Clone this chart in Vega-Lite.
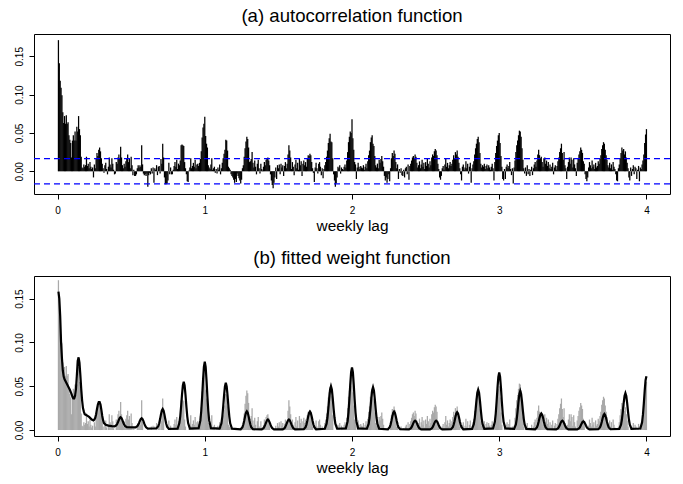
{
"$schema": "https://vega.github.io/schema/vega-lite/v6.json",
"padding": {"left": 13, "top": 6, "right": 14, "bottom": 5},
"spacing": 14,
"config": {
  "font": "Liberation Sans",
  "view": {"stroke": "black", "strokeWidth": 1},
  "axis": {"domain": false, "grid": false, "tickColor": "black", "tickSize": 5, "labelFont": "Liberation Sans", "titleFont": "Liberation Sans", "labelColor": "black", "titleColor": "black", "labelFontSize": 10, "titleFontSize": 15.4, "titleFontWeight": "normal"},
  "title": {"font": "Liberation Sans", "fontSize": 18.6, "fontWeight": "normal", "color": "black", "offset": 8, "anchor": "middle"}
},
"datasets": {
  "bounds": [{"bound": 0.0165}, {"bound": -0.0165}],
  "acf": [
{"hour":1,"acf":0.171},{"hour":2,"acf":0.141},{"hour":3,"acf":0.118},{"hour":4,"acf":0.109},{"hour":5,"acf":0.099},{"hour":6,"acf":0.077},{"hour":7,"acf":0.063},{"hour":8,"acf":0.072},{"hour":9,"acf":0.062},{"hour":10,"acf":0.073},{"hour":11,"acf":0.062},{"hour":12,"acf":0.064},{"hour":13,"acf":0.047},{"hour":14,"acf":0.041},{"hour":15,"acf":0.037},{"hour":16,"acf":0.018},{"hour":17,"acf":0.040},{"hour":18,"acf":0.047},{"hour":19,"acf":0.040},{"hour":20,"acf":0.052},{"hour":21,"acf":0.040},{"hour":22,"acf":0.058},{"hour":23,"acf":0.052},{"hour":24,"acf":0.072},
{"hour":25,"acf":0.055},{"hour":26,"acf":0.047},{"hour":27,"acf":0.019},{"hour":28,"acf":0.005},{"hour":29,"acf":0.004},{"hour":30,"acf":0.009},{"hour":31,"acf":0.006},{"hour":32,"acf":0.008},{"hour":33,"acf":0.019},{"hour":34,"acf":0.007},{"hour":35,"acf":0.010},{"hour":36,"acf":0.004},{"hour":37,"acf":0.012},{"hour":38,"acf":0.006},{"hour":39,"acf":0.003},{"hour":40,"acf":0.005},{"hour":41,"acf":-0.008},{"hour":42,"acf":0.009},{"hour":43,"acf":0.004},{"hour":44,"acf":0.016},{"hour":45,"acf":0.024},{"hour":46,"acf":0.020},{"hour":47,"acf":0.028},{"hour":48,"acf":0.031},
{"hour":49,"acf":0.026},{"hour":50,"acf":0.017},{"hour":51,"acf":0.010},{"hour":52,"acf":0.004},{"hour":53,"acf":-0.002},{"hour":54,"acf":0.008},{"hour":55,"acf":0.011},{"hour":56,"acf":0.003},{"hour":57,"acf":-0.004},{"hour":58,"acf":0.006},{"hour":59,"acf":0.018},{"hour":60,"acf":0.009},{"hour":61,"acf":0.005},{"hour":62,"acf":0.017},{"hour":63,"acf":0.010},{"hour":64,"acf":0.002},{"hour":65,"acf":-0.004},{"hour":66,"acf":-0.003},{"hour":67,"acf":0.012},{"hour":68,"acf":0.010},{"hour":69,"acf":0.018},{"hour":70,"acf":0.022},{"hour":71,"acf":0.016},{"hour":72,"acf":0.032},
{"hour":73,"acf":0.018},{"hour":74,"acf":0.008},{"hour":75,"acf":0.004},{"hour":76,"acf":0.010},{"hour":77,"acf":0.006},{"hour":78,"acf":0.013},{"hour":79,"acf":0.017},{"hour":80,"acf":0.022},{"hour":81,"acf":0.012},{"hour":82,"acf":0.016},{"hour":83,"acf":0.004},{"hour":84,"acf":0.019},{"hour":85,"acf":0.008},{"hour":86,"acf":-0.005},{"hour":87,"acf":0.002},{"hour":88,"acf":-0.006},{"hour":89,"acf":-0.006},{"hour":90,"acf":-0.004},{"hour":91,"acf":0.004},{"hour":92,"acf":0.008},{"hour":93,"acf":0.005},{"hour":94,"acf":0.008},{"hour":95,"acf":0.006},{"hour":96,"acf":0.034},
{"hour":97,"acf":0.009},{"hour":98,"acf":-0.003},{"hour":99,"acf":-0.005},{"hour":100,"acf":-0.004},{"hour":101,"acf":-0.006},{"hour":102,"acf":-0.003},{"hour":103,"acf":-0.020},{"hour":104,"acf":-0.005},{"hour":105,"acf":-0.002},{"hour":106,"acf":-0.004},{"hour":107,"acf":0.004},{"hour":108,"acf":-0.003},{"hour":109,"acf":0.005},{"hour":110,"acf":-0.015},{"hour":111,"acf":0.004},{"hour":112,"acf":0.002},{"hour":113,"acf":0.008},{"hour":114,"acf":-0.005},{"hour":115,"acf":0.006},{"hour":116,"acf":0.007},{"hour":117,"acf":-0.003},{"hour":118,"acf":0.016},{"hour":119,"acf":0.010},{"hour":120,"acf":0.036},
{"hour":121,"acf":0.018},{"hour":122,"acf":-0.008},{"hour":123,"acf":-0.017},{"hour":124,"acf":-0.017},{"hour":125,"acf":-0.016},{"hour":126,"acf":-0.012},{"hour":127,"acf":0.011},{"hour":128,"acf":-0.004},{"hour":129,"acf":0.005},{"hour":130,"acf":-0.004},{"hour":131,"acf":-0.004},{"hour":132,"acf":0.002},{"hour":133,"acf":0.007},{"hour":134,"acf":0.012},{"hour":135,"acf":0.006},{"hour":136,"acf":0.015},{"hour":137,"acf":0.003},{"hour":138,"acf":0.010},{"hour":139,"acf":0.008},{"hour":140,"acf":0.014},{"hour":141,"acf":0.034},{"hour":142,"acf":0.035},{"hour":143,"acf":0.034},{"hour":144,"acf":0.033},
{"hour":145,"acf":0.012},{"hour":146,"acf":0.004},{"hour":147,"acf":-0.004},{"hour":148,"acf":-0.013},{"hour":149,"acf":-0.014},{"hour":150,"acf":0.001},{"hour":151,"acf":0.005},{"hour":152,"acf":0.017},{"hour":153,"acf":0.004},{"hour":154,"acf":0.007},{"hour":155,"acf":0.011},{"hour":156,"acf":0.006},{"hour":157,"acf":0.015},{"hour":158,"acf":0.004},{"hour":159,"acf":0.009},{"hour":160,"acf":0.010},{"hour":161,"acf":0.007},{"hour":162,"acf":0.011},{"hour":163,"acf":0.016},{"hour":164,"acf":0.026},{"hour":165,"acf":0.044},{"hour":166,"acf":0.057},{"hour":167,"acf":0.062},{"hour":168,"acf":0.071},
{"hour":169,"acf":0.046},{"hour":170,"acf":0.036},{"hour":171,"acf":0.031},{"hour":172,"acf":0.008},{"hour":173,"acf":0.005},{"hour":174,"acf":0.003},{"hour":175,"acf":0.009},{"hour":176,"acf":0.017},{"hour":177,"acf":0.002},{"hour":178,"acf":0.004},{"hour":179,"acf":0.006},{"hour":180,"acf":-0.002},{"hour":181,"acf":0.003},{"hour":182,"acf":-0.003},{"hour":183,"acf":0.005},{"hour":184,"acf":0.002},{"hour":185,"acf":0.009},{"hour":186,"acf":-0.004},{"hour":187,"acf":0.004},{"hour":188,"acf":0.011},{"hour":189,"acf":0.017},{"hour":190,"acf":0.023},{"hour":191,"acf":0.028},{"hour":192,"acf":0.041},
{"hour":193,"acf":0.040},{"hour":194,"acf":0.027},{"hour":195,"acf":0.006},{"hour":196,"acf":0.004},{"hour":197,"acf":0.002},{"hour":198,"acf":-0.004},{"hour":199,"acf":-0.006},{"hour":200,"acf":-0.008},{"hour":201,"acf":-0.011},{"hour":202,"acf":-0.015},{"hour":203,"acf":-0.010},{"hour":204,"acf":-0.014},{"hour":205,"acf":-0.003},{"hour":206,"acf":-0.006},{"hour":207,"acf":-0.009},{"hour":208,"acf":-0.012},{"hour":209,"acf":-0.016},{"hour":210,"acf":-0.011},{"hour":211,"acf":0.004},{"hour":212,"acf":0.008},{"hour":213,"acf":0.019},{"hour":214,"acf":0.030},{"hour":215,"acf":0.039},{"hour":216,"acf":0.045},
{"hour":217,"acf":0.042},{"hour":218,"acf":0.031},{"hour":219,"acf":0.012},{"hour":220,"acf":0.013},{"hour":221,"acf":0.016},{"hour":222,"acf":0.025},{"hour":223,"acf":0.011},{"hour":224,"acf":0.005},{"hour":225,"acf":0.014},{"hour":226,"acf":0.006},{"hour":227,"acf":-0.004},{"hour":228,"acf":0.010},{"hour":229,"acf":0.015},{"hour":230,"acf":0.004},{"hour":231,"acf":-0.003},{"hour":232,"acf":0.010},{"hour":233,"acf":0.003},{"hour":234,"acf":0.001},{"hour":235,"acf":0.006},{"hour":236,"acf":0.012},{"hour":237,"acf":0.008},{"hour":238,"acf":0.015},{"hour":239,"acf":0.017},{"hour":240,"acf":0.018},
{"hour":241,"acf":0.014},{"hour":242,"acf":0.008},{"hour":243,"acf":-0.004},{"hour":244,"acf":-0.012},{"hour":245,"acf":-0.018},{"hour":246,"acf":-0.022},{"hour":247,"acf":-0.015},{"hour":248,"acf":-0.008},{"hour":249,"acf":0.005},{"hour":250,"acf":-0.010},{"hour":251,"acf":0.008},{"hour":252,"acf":0.004},{"hour":253,"acf":0.009},{"hour":254,"acf":-0.004},{"hour":255,"acf":0.010},{"hour":256,"acf":0.005},{"hour":257,"acf":0.008},{"hour":258,"acf":-0.006},{"hour":259,"acf":0.007},{"hour":260,"acf":0.012},{"hour":261,"acf":0.004},{"hour":262,"acf":0.010},{"hour":263,"acf":0.022},{"hour":264,"acf":0.034},
{"hour":265,"acf":0.027},{"hour":266,"acf":0.018},{"hour":267,"acf":0.003},{"hour":268,"acf":0.012},{"hour":269,"acf":0.006},{"hour":270,"acf":-0.005},{"hour":271,"acf":0.009},{"hour":272,"acf":0.015},{"hour":273,"acf":0.004},{"hour":274,"acf":0.011},{"hour":275,"acf":0.002},{"hour":276,"acf":0.016},{"hour":277,"acf":0.008},{"hour":278,"acf":0.013},{"hour":279,"acf":-0.006},{"hour":280,"acf":0.010},{"hour":281,"acf":0.014},{"hour":282,"acf":0.008},{"hour":283,"acf":0.012},{"hour":284,"acf":0.006},{"hour":285,"acf":0.017},{"hour":286,"acf":0.021},{"hour":287,"acf":0.020},{"hour":288,"acf":0.023},
{"hour":289,"acf":0.021},{"hour":290,"acf":0.012},{"hour":291,"acf":0.004},{"hour":292,"acf":-0.002},{"hour":293,"acf":-0.014},{"hour":294,"acf":0.005},{"hour":295,"acf":0.011},{"hour":296,"acf":0.004},{"hour":297,"acf":-0.003},{"hour":298,"acf":0.010},{"hour":299,"acf":0.012},{"hour":300,"acf":0.006},{"hour":301,"acf":-0.005},{"hour":302,"acf":0.004},{"hour":303,"acf":-0.009},{"hour":304,"acf":0.003},{"hour":305,"acf":0.008},{"hour":306,"acf":0.012},{"hour":307,"acf":0.019},{"hour":308,"acf":0.027},{"hour":309,"acf":0.037},{"hour":310,"acf":0.043},{"hour":311,"acf":0.049},{"hour":312,"acf":0.039},
{"hour":313,"acf":0.038},{"hour":314,"acf":0.017},{"hour":315,"acf":-0.004},{"hour":316,"acf":-0.012},{"hour":317,"acf":-0.020},{"hour":318,"acf":-0.016},{"hour":319,"acf":-0.008},{"hour":320,"acf":0.006},{"hour":321,"acf":0.004},{"hour":322,"acf":0.008},{"hour":323,"acf":-0.003},{"hour":324,"acf":0.005},{"hour":325,"acf":0.003},{"hour":326,"acf":0.002},{"hour":327,"acf":0.006},{"hour":328,"acf":0.009},{"hour":329,"acf":0.005},{"hour":330,"acf":0.014},{"hour":331,"acf":0.025},{"hour":332,"acf":0.038},{"hour":333,"acf":0.045},{"hour":334,"acf":0.052},{"hour":335,"acf":0.050},{"hour":336,"acf":0.068},
{"hour":337,"acf":0.043},{"hour":338,"acf":0.028},{"hour":339,"acf":0.012},{"hour":340,"acf":0.009},{"hour":341,"acf":-0.010},{"hour":342,"acf":0.005},{"hour":343,"acf":0.011},{"hour":344,"acf":0.006},{"hour":345,"acf":0.003},{"hour":346,"acf":0.007},{"hour":347,"acf":0.005},{"hour":348,"acf":0.004},{"hour":349,"acf":0.008},{"hour":350,"acf":0.002},{"hour":351,"acf":0.006},{"hour":352,"acf":0.010},{"hour":353,"acf":0.004},{"hour":354,"acf":0.013},{"hour":355,"acf":0.021},{"hour":356,"acf":0.027},{"hour":357,"acf":0.038},{"hour":358,"acf":0.044},{"hour":359,"acf":0.047},{"hour":360,"acf":0.036},
{"hour":361,"acf":0.033},{"hour":362,"acf":0.020},{"hour":363,"acf":0.008},{"hour":364,"acf":0.005},{"hour":365,"acf":0.010},{"hour":366,"acf":0.004},{"hour":367,"acf":0.015},{"hour":368,"acf":0.011},{"hour":369,"acf":0.016},{"hour":370,"acf":0.020},{"hour":371,"acf":0.013},{"hour":372,"acf":0.006},{"hour":373,"acf":-0.006},{"hour":374,"acf":-0.012},{"hour":375,"acf":-0.008},{"hour":376,"acf":-0.015},{"hour":377,"acf":-0.010},{"hour":378,"acf":-0.004},{"hour":379,"acf":-0.013},{"hour":380,"acf":0.004},{"hour":381,"acf":0.017},{"hour":382,"acf":0.024},{"hour":383,"acf":0.020},{"hour":384,"acf":0.027},
{"hour":385,"acf":0.023},{"hour":386,"acf":0.012},{"hour":387,"acf":0.004},{"hour":388,"acf":0.009},{"hour":389,"acf":-0.010},{"hour":390,"acf":0.003},{"hour":391,"acf":-0.002},{"hour":392,"acf":0.004},{"hour":393,"acf":-0.005},{"hour":394,"acf":-0.006},{"hour":395,"acf":0.002},{"hour":396,"acf":-0.008},{"hour":397,"acf":0.004},{"hour":398,"acf":0.006},{"hour":399,"acf":-0.004},{"hour":400,"acf":0.009},{"hour":401,"acf":-0.011},{"hour":402,"acf":0.007},{"hour":403,"acf":0.010},{"hour":404,"acf":0.014},{"hour":405,"acf":0.018},{"hour":406,"acf":0.020},{"hour":407,"acf":0.016},{"hour":408,"acf":0.022},
{"hour":409,"acf":0.019},{"hour":410,"acf":0.011},{"hour":411,"acf":0.005},{"hour":412,"acf":0.008},{"hour":413,"acf":0.013},{"hour":414,"acf":0.004},{"hour":415,"acf":0.009},{"hour":416,"acf":0.015},{"hour":417,"acf":0.006},{"hour":418,"acf":0.011},{"hour":419,"acf":0.003},{"hour":420,"acf":0.012},{"hour":421,"acf":0.007},{"hour":422,"acf":0.016},{"hour":423,"acf":0.010},{"hour":424,"acf":0.005},{"hour":425,"acf":0.013},{"hour":426,"acf":0.008},{"hour":427,"acf":0.018},{"hour":428,"acf":0.022},{"hour":429,"acf":0.020},{"hour":430,"acf":0.026},{"hour":431,"acf":0.029},{"hour":432,"acf":0.027},
{"hour":433,"acf":0.021},{"hour":434,"acf":0.010},{"hour":435,"acf":0.003},{"hour":436,"acf":-0.008},{"hour":437,"acf":-0.011},{"hour":438,"acf":-0.006},{"hour":439,"acf":0.004},{"hour":440,"acf":0.007},{"hour":441,"acf":0.002},{"hour":442,"acf":0.009},{"hour":443,"acf":0.016},{"hour":444,"acf":0.006},{"hour":445,"acf":0.011},{"hour":446,"acf":0.004},{"hour":447,"acf":0.008},{"hour":448,"acf":0.012},{"hour":449,"acf":0.007},{"hour":450,"acf":0.010},{"hour":451,"acf":0.015},{"hour":452,"acf":0.021},{"hour":453,"acf":0.017},{"hour":454,"acf":0.025},{"hour":455,"acf":0.022},{"hour":456,"acf":0.027},
{"hour":457,"acf":0.019},{"hour":458,"acf":0.011},{"hour":459,"acf":0.004},{"hour":460,"acf":-0.004},{"hour":461,"acf":-0.012},{"hour":462,"acf":0.006},{"hour":463,"acf":0.009},{"hour":464,"acf":0.002},{"hour":465,"acf":0.005},{"hour":466,"acf":0.013},{"hour":467,"acf":0.004},{"hour":468,"acf":0.010},{"hour":469,"acf":-0.003},{"hour":470,"acf":0.006},{"hour":471,"acf":0.011},{"hour":472,"acf":-0.015},{"hour":473,"acf":0.004},{"hour":474,"acf":0.009},{"hour":475,"acf":0.013},{"hour":476,"acf":0.022},{"hour":477,"acf":0.030},{"hour":478,"acf":0.036},{"hour":479,"acf":0.042},{"hour":480,"acf":0.045},
{"hour":481,"acf":0.038},{"hour":482,"acf":0.024},{"hour":483,"acf":0.010},{"hour":484,"acf":0.005},{"hour":485,"acf":0.008},{"hour":486,"acf":0.006},{"hour":487,"acf":0.010},{"hour":488,"acf":0.003},{"hour":489,"acf":0.007},{"hour":490,"acf":0.009},{"hour":491,"acf":0.004},{"hour":492,"acf":0.008},{"hour":493,"acf":0.005},{"hour":494,"acf":0.002},{"hour":495,"acf":0.006},{"hour":496,"acf":0.010},{"hour":497,"acf":0.004},{"hour":498,"acf":-0.012},{"hour":499,"acf":0.012},{"hour":500,"acf":0.024},{"hour":501,"acf":0.033},{"hour":502,"acf":0.040},{"hour":503,"acf":0.047},{"hour":504,"acf":0.050},
{"hour":505,"acf":0.037},{"hour":506,"acf":0.020},{"hour":507,"acf":0.006},{"hour":508,"acf":-0.010},{"hour":509,"acf":-0.012},{"hour":510,"acf":0.003},{"hour":511,"acf":-0.010},{"hour":512,"acf":0.006},{"hour":513,"acf":0.009},{"hour":514,"acf":0.004},{"hour":515,"acf":0.007},{"hour":516,"acf":0.012},{"hour":517,"acf":0.003},{"hour":518,"acf":-0.005},{"hour":519,"acf":0.004},{"hour":520,"acf":-0.016},{"hour":521,"acf":0.005},{"hour":522,"acf":0.014},{"hour":523,"acf":0.025},{"hour":524,"acf":0.034},{"hour":525,"acf":0.040},{"hour":526,"acf":0.047},{"hour":527,"acf":0.053},{"hour":528,"acf":0.052},
{"hour":529,"acf":0.045},{"hour":530,"acf":0.030},{"hour":531,"acf":0.015},{"hour":532,"acf":0.004},{"hour":533,"acf":-0.003},{"hour":534,"acf":0.005},{"hour":535,"acf":-0.006},{"hour":536,"acf":0.008},{"hour":537,"acf":-0.004},{"hour":538,"acf":0.003},{"hour":539,"acf":-0.006},{"hour":540,"acf":0.002},{"hour":541,"acf":0.006},{"hour":542,"acf":-0.005},{"hour":543,"acf":0.004},{"hour":544,"acf":0.009},{"hour":545,"acf":0.012},{"hour":546,"acf":0.006},{"hour":547,"acf":0.014},{"hour":548,"acf":0.022},{"hour":549,"acf":0.028},{"hour":550,"acf":0.021},{"hour":551,"acf":0.017},{"hour":552,"acf":0.019},
{"hour":553,"acf":0.012},{"hour":554,"acf":0.006},{"hour":555,"acf":0.017},{"hour":556,"acf":0.018},{"hour":557,"acf":0.010},{"hour":558,"acf":0.014},{"hour":559,"acf":0.007},{"hour":560,"acf":0.012},{"hour":561,"acf":0.004},{"hour":562,"acf":0.009},{"hour":563,"acf":0.003},{"hour":564,"acf":0.006},{"hour":565,"acf":0.011},{"hour":566,"acf":-0.004},{"hour":567,"acf":0.005},{"hour":568,"acf":0.008},{"hour":569,"acf":0.002},{"hour":570,"acf":0.007},{"hour":571,"acf":0.013},{"hour":572,"acf":0.018},{"hour":573,"acf":0.025},{"hour":574,"acf":0.030},{"hour":575,"acf":0.036},{"hour":576,"acf":0.024},
{"hour":577,"acf":0.015},{"hour":578,"acf":0.025},{"hour":579,"acf":0.008},{"hour":580,"acf":0.004},{"hour":581,"acf":-0.010},{"hour":582,"acf":0.006},{"hour":583,"acf":0.012},{"hour":584,"acf":0.018},{"hour":585,"acf":0.010},{"hour":586,"acf":0.018},{"hour":587,"acf":0.015},{"hour":588,"acf":0.005},{"hour":589,"acf":0.017},{"hour":590,"acf":0.009},{"hour":591,"acf":0.004},{"hour":592,"acf":-0.006},{"hour":593,"acf":0.011},{"hour":594,"acf":0.016},{"hour":595,"acf":0.022},{"hour":596,"acf":0.026},{"hour":597,"acf":0.031},{"hour":598,"acf":0.028},{"hour":599,"acf":0.024},{"hour":600,"acf":0.013},
{"hour":601,"acf":0.010},{"hour":602,"acf":-0.004},{"hour":603,"acf":-0.010},{"hour":604,"acf":-0.013},{"hour":605,"acf":-0.008},{"hour":606,"acf":0.005},{"hour":607,"acf":0.012},{"hour":608,"acf":0.008},{"hour":609,"acf":0.004},{"hour":610,"acf":0.014},{"hour":611,"acf":0.006},{"hour":612,"acf":0.009},{"hour":613,"acf":0.003},{"hour":614,"acf":0.011},{"hour":615,"acf":0.005},{"hour":616,"acf":0.007},{"hour":617,"acf":0.013},{"hour":618,"acf":0.010},{"hour":619,"acf":0.016},{"hour":620,"acf":0.021},{"hour":621,"acf":0.029},{"hour":622,"acf":0.034},{"hour":623,"acf":0.038},{"hour":624,"acf":0.036},
{"hour":625,"acf":0.028},{"hour":626,"acf":0.021},{"hour":627,"acf":0.015},{"hour":628,"acf":0.008},{"hour":629,"acf":0.005},{"hour":630,"acf":0.011},{"hour":631,"acf":0.004},{"hour":632,"acf":0.009},{"hour":633,"acf":0.002},{"hour":634,"acf":0.012},{"hour":635,"acf":0.006},{"hour":636,"acf":0.003},{"hour":637,"acf":-0.004},{"hour":638,"acf":-0.012},{"hour":639,"acf":-0.013},{"hour":640,"acf":0.004},{"hour":641,"acf":0.009},{"hour":642,"acf":0.017},{"hour":643,"acf":0.024},{"hour":644,"acf":0.031},{"hour":645,"acf":0.027},{"hour":646,"acf":0.029},{"hour":647,"acf":0.022},{"hour":648,"acf":0.026},
{"hour":649,"acf":0.018},{"hour":650,"acf":0.011},{"hour":651,"acf":0.004},{"hour":652,"acf":-0.008},{"hour":653,"acf":-0.012},{"hour":654,"acf":0.005},{"hour":655,"acf":-0.006},{"hour":656,"acf":0.003},{"hour":657,"acf":0.008},{"hour":658,"acf":-0.004},{"hour":659,"acf":0.006},{"hour":660,"acf":0.004},{"hour":661,"acf":-0.010},{"hour":662,"acf":0.002},{"hour":663,"acf":0.007},{"hour":664,"acf":-0.013},{"hour":665,"acf":0.005},{"hour":666,"acf":0.003},{"hour":667,"acf":0.009},{"hour":668,"acf":0.014},{"hour":669,"acf":0.022},{"hour":670,"acf":0.037},{"hour":671,"acf":0.048},{"hour":672,"acf":0.055}
  ],
  "weight": [
{"hour":1,"w":0.158},{"hour":2,"w":0.150},{"hour":3,"w":0.130},{"hour":4,"w":0.100},{"hour":5,"w":0.082},{"hour":6,"w":0.068},{"hour":7,"w":0.061},{"hour":8,"w":0.058},{"hour":10,"w":0.054},{"hour":12,"w":0.050},{"hour":14,"w":0.046},{"hour":16,"w":0.041},{"hour":17,"w":0.038},{"hour":18,"w":0.036},{"hour":19,"w":0.036},{"hour":20,"w":0.039},{"hour":21,"w":0.047},{"hour":22,"w":0.062},{"hour":23,"w":0.079},{"hour":24,"w":0.083},{"hour":25,"w":0.077},{"hour":26,"w":0.063},{"hour":27,"w":0.047},{"hour":28,"w":0.034},{"hour":29,"w":0.025},{"hour":30,"w":0.021},{"hour":31,"w":0.018},{"hour":33,"w":0.017},{"hour":36,"w":0.015},{"hour":39,"w":0.012},{"hour":41,"w":0.011},{"hour":42,"w":0.012},{"hour":43,"w":0.014},{"hour":44,"w":0.018},{"hour":45,"w":0.024},{"hour":46,"w":0.029},{"hour":47,"w":0.032},{"hour":48,"w":0.032},{"hour":49,"w":0.029},{"hour":50,"w":0.023},{"hour":51,"w":0.016},{"hour":52,"w":0.011},{"hour":53,"w":0.008},{"hour":55,"w":0.006},{"hour":58,"w":0.005},{"hour":62,"w":0.0045},
{"hour":65,"w":0.0042},{"hour":67,"w":0.0054},{"hour":68,"w":0.0069},{"hour":69,"w":0.0092},{"hour":70,"w":0.0117},{"hour":71,"w":0.0138},{"hour":72,"w":0.0146},{"hour":73,"w":0.0137},{"hour":74,"w":0.0114},{"hour":75,"w":0.0086},{"hour":76,"w":0.0062},{"hour":77,"w":0.0046},{"hour":79,"w":0.0032},
{"hour":89,"w":0.0031},{"hour":91,"w":0.0044},{"hour":92,"w":0.0059},{"hour":93,"w":0.0081},{"hour":94,"w":0.0106},{"hour":95,"w":0.0126},{"hour":96,"w":0.0134},{"hour":97,"w":0.0125},{"hour":98,"w":0.0101},{"hour":99,"w":0.0073},{"hour":100,"w":0.0048},{"hour":101,"w":0.0031},{"hour":103,"w":0.0017},
{"hour":113,"w":0.0020},{"hour":115,"w":0.0045},{"hour":116,"w":0.0078},{"hour":117,"w":0.0125},{"hour":118,"w":0.0178},{"hour":119,"w":0.0223},{"hour":120,"w":0.024},{"hour":121,"w":0.0222},{"hour":122,"w":0.0176},{"hour":123,"w":0.0121},{"hour":124,"w":0.0072},{"hour":125,"w":0.0039},{"hour":127,"w":0.0013},
{"hour":137,"w":0.0016},{"hour":139,"w":0.0079},{"hour":140,"w":0.0157},{"hour":141,"w":0.0270},{"hour":142,"w":0.0401},{"hour":143,"w":0.0508},{"hour":144,"w":0.055},{"hour":145,"w":0.0508},{"hour":146,"w":0.0401},{"hour":147,"w":0.0270},{"hour":148,"w":0.0157},{"hour":149,"w":0.0079},{"hour":151,"w":0.0016},
{"hour":161,"w":0.0021},{"hour":163,"w":0.0110},{"hour":164,"w":0.0220},{"hour":165,"w":0.0382},{"hour":166,"w":0.0568},{"hour":167,"w":0.0720},{"hour":168,"w":0.078},{"hour":169,"w":0.0720},{"hour":170,"w":0.0568},{"hour":171,"w":0.0382},{"hour":172,"w":0.0220},{"hour":173,"w":0.0110},{"hour":175,"w":0.0021},
{"hour":185,"w":0.0016},{"hour":187,"w":0.0077},{"hour":188,"w":0.0154},{"hour":189,"w":0.0266},{"hour":190,"w":0.0393},{"hour":191,"w":0.0499},{"hour":192,"w":0.054},{"hour":193,"w":0.0499},{"hour":194,"w":0.0393},{"hour":195,"w":0.0266},{"hour":196,"w":0.0154},{"hour":197,"w":0.0077},{"hour":199,"w":0.0016},
{"hour":209,"w":0.0009},{"hour":211,"w":0.0033},{"hour":212,"w":0.0063},{"hour":213,"w":0.0107},{"hour":214,"w":0.0157},{"hour":215,"w":0.0199},{"hour":216,"w":0.0215},{"hour":217,"w":0.0199},{"hour":218,"w":0.0157},{"hour":219,"w":0.0107},{"hour":220,"w":0.0063},{"hour":221,"w":0.0033},{"hour":223,"w":0.0009},
{"hour":233,"w":0.0007},{"hour":235,"w":0.0021},{"hour":236,"w":0.0037},{"hour":237,"w":0.0061},{"hour":238,"w":0.0088},{"hour":239,"w":0.0111},{"hour":240,"w":0.012},{"hour":241,"w":0.0111},{"hour":242,"w":0.0088},{"hour":243,"w":0.0061},{"hour":244,"w":0.0037},{"hour":245,"w":0.0021},{"hour":247,"w":0.0007},
{"hour":257,"w":0.0007},{"hour":259,"w":0.0021},{"hour":260,"w":0.0037},{"hour":261,"w":0.0061},{"hour":262,"w":0.0088},{"hour":263,"w":0.0111},{"hour":264,"w":0.012},{"hour":265,"w":0.0111},{"hour":266,"w":0.0088},{"hour":267,"w":0.0061},{"hour":268,"w":0.0037},{"hour":269,"w":0.0021},{"hour":271,"w":0.0007},
{"hour":281,"w":0.0009},{"hour":283,"w":0.0033},{"hour":284,"w":0.0062},{"hour":285,"w":0.0105},{"hour":286,"w":0.0154},{"hour":287,"w":0.0194},{"hour":288,"w":0.021},{"hour":289,"w":0.0194},{"hour":290,"w":0.0154},{"hour":291,"w":0.0105},{"hour":292,"w":0.0062},{"hour":293,"w":0.0033},{"hour":295,"w":0.0009},
{"hour":305,"w":0.0015},{"hour":307,"w":0.0072},{"hour":308,"w":0.0143},{"hour":309,"w":0.0246},{"hour":310,"w":0.0364},{"hour":311,"w":0.0462},{"hour":312,"w":0.050},{"hour":313,"w":0.0462},{"hour":314,"w":0.0364},{"hour":315,"w":0.0246},{"hour":316,"w":0.0143},{"hour":317,"w":0.0072},{"hour":319,"w":0.0015},
{"hour":329,"w":0.0019},{"hour":331,"w":0.0101},{"hour":332,"w":0.0202},{"hour":333,"w":0.0351},{"hour":334,"w":0.0520},{"hour":335,"w":0.0660},{"hour":336,"w":0.0715},{"hour":337,"w":0.0660},{"hour":338,"w":0.0520},{"hour":339,"w":0.0351},{"hour":340,"w":0.0202},{"hour":341,"w":0.0101},{"hour":343,"w":0.0019},
{"hour":353,"w":0.0015},{"hour":355,"w":0.0070},{"hour":356,"w":0.0140},{"hour":357,"w":0.0241},{"hour":358,"w":0.0357},{"hour":359,"w":0.0453},{"hour":360,"w":0.049},{"hour":361,"w":0.0453},{"hour":362,"w":0.0357},{"hour":363,"w":0.0241},{"hour":364,"w":0.0140},{"hour":365,"w":0.0070},{"hour":367,"w":0.0015},
{"hour":377,"w":0.0009},{"hour":379,"w":0.0033},{"hour":380,"w":0.0062},{"hour":381,"w":0.0105},{"hour":382,"w":0.0154},{"hour":383,"w":0.0194},{"hour":384,"w":0.021},{"hour":385,"w":0.0194},{"hour":386,"w":0.0154},{"hour":387,"w":0.0105},{"hour":388,"w":0.0062},{"hour":389,"w":0.0033},{"hour":391,"w":0.0009},
{"hour":401,"w":0.0007},{"hour":403,"w":0.0019},{"hour":404,"w":0.0033},{"hour":405,"w":0.0055},{"hour":406,"w":0.0079},{"hour":407,"w":0.0099},{"hour":408,"w":0.0107},{"hour":409,"w":0.0099},{"hour":410,"w":0.0079},{"hour":411,"w":0.0055},{"hour":412,"w":0.0033},{"hour":413,"w":0.0019},{"hour":415,"w":0.0007},
{"hour":425,"w":0.0007},{"hour":427,"w":0.0019},{"hour":428,"w":0.0033},{"hour":429,"w":0.0055},{"hour":430,"w":0.0079},{"hour":431,"w":0.0099},{"hour":432,"w":0.0107},{"hour":433,"w":0.0099},{"hour":434,"w":0.0079},{"hour":435,"w":0.0055},{"hour":436,"w":0.0033},{"hour":437,"w":0.0019},{"hour":439,"w":0.0007},
{"hour":449,"w":0.0009},{"hour":451,"w":0.0032},{"hour":452,"w":0.0060},{"hour":453,"w":0.0101},{"hour":454,"w":0.0149},{"hour":455,"w":0.0188},{"hour":456,"w":0.0203},{"hour":457,"w":0.0188},{"hour":458,"w":0.0149},{"hour":459,"w":0.0101},{"hour":460,"w":0.0060},{"hour":461,"w":0.0032},{"hour":463,"w":0.0009},
{"hour":473,"w":0.0014},{"hour":475,"w":0.0066},{"hour":476,"w":0.0131},{"hour":477,"w":0.0227},{"hour":478,"w":0.0335},{"hour":479,"w":0.0425},{"hour":480,"w":0.046},{"hour":481,"w":0.0425},{"hour":482,"w":0.0335},{"hour":483,"w":0.0227},{"hour":484,"w":0.0131},{"hour":485,"w":0.0066},{"hour":487,"w":0.0014},
{"hour":497,"w":0.0018},{"hour":499,"w":0.0093},{"hour":500,"w":0.0186},{"hour":501,"w":0.0323},{"hour":502,"w":0.0478},{"hour":503,"w":0.0607},{"hour":504,"w":0.0657},{"hour":505,"w":0.0607},{"hour":506,"w":0.0478},{"hour":507,"w":0.0323},{"hour":508,"w":0.0186},{"hour":509,"w":0.0093},{"hour":511,"w":0.0018},
{"hour":521,"w":0.0014},{"hour":523,"w":0.0065},{"hour":524,"w":0.0128},{"hour":525,"w":0.0220},{"hour":526,"w":0.0325},{"hour":527,"w":0.0412},{"hour":528,"w":0.0446},{"hour":529,"w":0.0412},{"hour":530,"w":0.0325},{"hour":531,"w":0.0220},{"hour":532,"w":0.0128},{"hour":533,"w":0.0065},{"hour":535,"w":0.0014},
{"hour":545,"w":0.0009},{"hour":547,"w":0.0030},{"hour":548,"w":0.0056},{"hour":549,"w":0.0095},{"hour":550,"w":0.0139},{"hour":551,"w":0.0176},{"hour":552,"w":0.019},{"hour":553,"w":0.0176},{"hour":554,"w":0.0139},{"hour":555,"w":0.0095},{"hour":556,"w":0.0056},{"hour":557,"w":0.0030},{"hour":559,"w":0.0009},
{"hour":569,"w":0.0007},{"hour":571,"w":0.0019},{"hour":572,"w":0.0033},{"hour":573,"w":0.0055},{"hour":574,"w":0.0079},{"hour":575,"w":0.0099},{"hour":576,"w":0.0107},{"hour":577,"w":0.0099},{"hour":578,"w":0.0079},{"hour":579,"w":0.0055},{"hour":580,"w":0.0033},{"hour":581,"w":0.0019},{"hour":583,"w":0.0007},
{"hour":593,"w":0.0007},{"hour":595,"w":0.0018},{"hour":596,"w":0.0031},{"hour":597,"w":0.0051},{"hour":598,"w":0.0073},{"hour":599,"w":0.0092},{"hour":600,"w":0.0099},{"hour":601,"w":0.0092},{"hour":602,"w":0.0073},{"hour":603,"w":0.0051},{"hour":604,"w":0.0031},{"hour":605,"w":0.0018},{"hour":607,"w":0.0007},
{"hour":617,"w":0.0009},{"hour":619,"w":0.0029},{"hour":620,"w":0.0055},{"hour":621,"w":0.0092},{"hour":622,"w":0.0135},{"hour":623,"w":0.0170},{"hour":624,"w":0.0184},{"hour":625,"w":0.0170},{"hour":626,"w":0.0135},{"hour":627,"w":0.0092},{"hour":628,"w":0.0055},{"hour":629,"w":0.0029},{"hour":631,"w":0.0009},
{"hour":641,"w":0.0013},{"hour":643,"w":0.0061},{"hour":644,"w":0.0120},{"hour":645,"w":0.0207},{"hour":646,"w":0.0306},{"hour":647,"w":0.0388},{"hour":648,"w":0.042},{"hour":649,"w":0.0388},{"hour":650,"w":0.0306},{"hour":651,"w":0.0207},{"hour":652,"w":0.0120},{"hour":653,"w":0.0061},{"hour":655,"w":0.0013},
{"hour":665,"w":0.0017},{"hour":667,"w":0.0087},{"hour":668,"w":0.0175},{"hour":669,"w":0.0302},{"hour":670,"w":0.0448},{"hour":671,"w":0.0568},{"hour":672,"w":0.0615}
  ]
},
"vconcat": [
  {
    "title": "(a) autocorrelation function",
    "width": 636,
    "height": 160,
    "layer": [
      {
        "data": {"name": "acf"},
        "mark": {"type": "rule", "color": "black", "strokeWidth": 1.25},
        "encoding": {
          "x": {"field": "hour", "type": "quantitative", "scale": {"domain": [-26.88, 698.88], "nice": false, "zero": false},
                "axis": {"values": [0, 168, 336, 504, 672], "labelExpr": "datum.value / 168", "title": "weekly lag", "labelPadding": 6, "titlePadding": 3}},
          "y": {"field": "acf", "type": "quantitative", "scale": {"domain": [-0.0296, 0.179], "nice": false, "zero": false},
                "axis": {"values": [0, 0.05, 0.1, 0.15], "format": ".2f", "labelAngle": 270, "labelAlign": "center", "labelBaseline": "bottom", "labelPadding": 5, "title": null}},
          "y2": {"datum": 0}
        }
      },
      {
        "mark": {"type": "rule", "color": "black", "strokeWidth": 1},
        "encoding": {"y": {"datum": 0}}
      },
      {
        "data": {"name": "bounds"},
        "mark": {"type": "rule", "color": "#0000FF", "strokeWidth": 1.2, "strokeDash": [6, 4]},
        "encoding": {"y": {"field": "bound", "type": "quantitative"}}
      }
    ]
  },
  {
    "title": "(b) fitted weight function",
    "width": 636,
    "height": 160,
    "layer": [
      {
        "data": {"name": "acf"},
        "transform": [{"filter": "datum.acf > 0"}],
        "mark": {"type": "rule", "color": "#A9A9A9", "strokeWidth": 1.25},
        "encoding": {
          "x": {"field": "hour", "type": "quantitative", "scale": {"domain": [-26.88, 698.88], "nice": false, "zero": false},
                "axis": {"values": [0, 168, 336, 504, 672], "labelExpr": "datum.value / 168", "title": "weekly lag", "labelPadding": 6, "titlePadding": 3}},
          "y": {"field": "acf", "type": "quantitative", "scale": {"domain": [-0.0068, 0.1758], "nice": false, "zero": false},
                "axis": {"values": [0, 0.05, 0.1, 0.15], "format": ".2f", "labelAngle": 270, "labelAlign": "center", "labelBaseline": "bottom", "labelPadding": 5, "title": null}},
          "y2": {"datum": 0}
        }
      },
      {
        "data": {"name": "weight"},
        "mark": {"type": "line", "color": "black", "strokeWidth": 2.2},
        "encoding": {
          "x": {"field": "hour", "type": "quantitative"},
          "y": {"field": "w", "type": "quantitative"}
        }
      }
    ]
  }
]
}
